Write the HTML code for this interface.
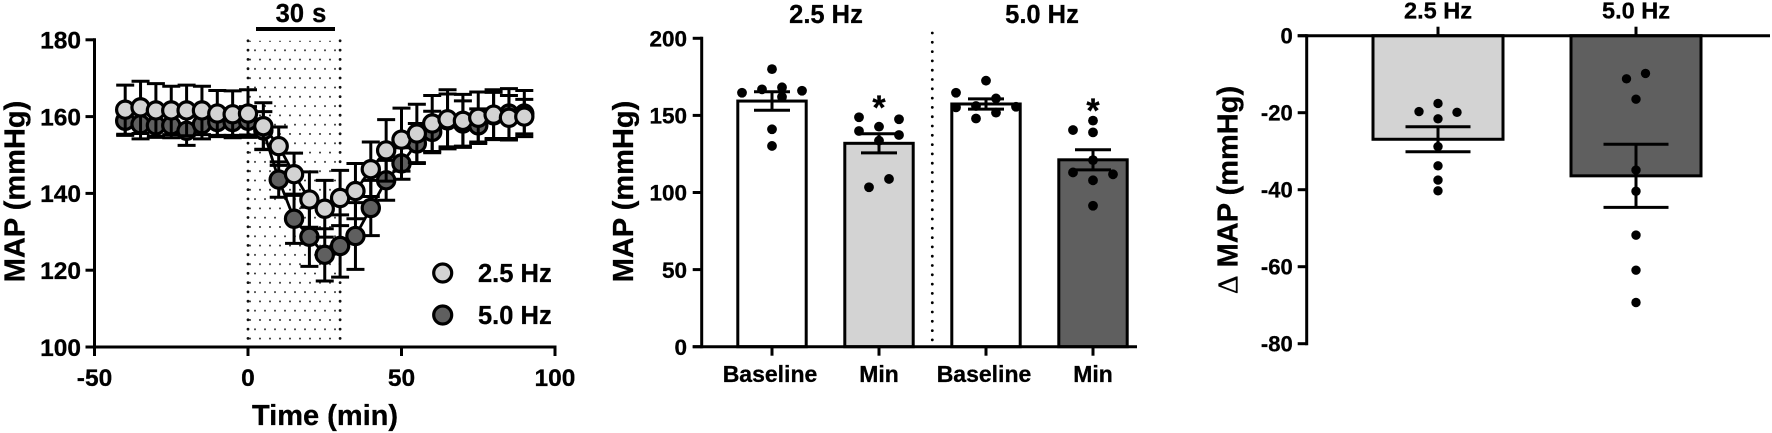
<!DOCTYPE html>
<html lang="en">
<head>
<meta charset="utf-8">
<title>MAP response charts</title>
<style>
html,body{margin:0;padding:0;background:#fff;width:1772px;height:433px;overflow:hidden}
svg{display:block;font-family:"Liberation Sans",Arial,sans-serif;font-weight:bold;fill:#000}
text{stroke:#000;stroke-width:.3px}
</style>
</head>
<body>
<svg id="fig" width="1772" height="433" viewBox="0 0 1772 433" xmlns="http://www.w3.org/2000/svg">
  <defs>
    <pattern id="stipple" width="10" height="18.6" patternUnits="userSpaceOnUse" x="248" y="40.5">
      <circle cx="2" cy="0.5" r="0.95" fill="#222"></circle>
      <circle cx="7" cy="9.8" r="0.95" fill="#222"></circle>
      <circle cx="2" cy="19.1" r="0.95" fill="#222"></circle>
    </pattern>
  </defs>
  <g id="chart1"></g>
  <g id="chart2"></g>
  <g id="chart3"></g>

  <text transform="translate(24.5,191.5) rotate(-90)" text-anchor="middle" font-size="29">MAP (mmHg)</text>
  <text x="325" y="425" text-anchor="middle" font-size="29">Time (min)</text>
  <text x="301" y="22" text-anchor="middle" font-size="25.5" word-spacing="1">30 s</text>
  <rect x="256" y="27" width="79" height="4" fill="#000"></rect>

  <text transform="translate(633,191.5) rotate(-90)" text-anchor="middle" font-size="29">MAP (mmHg)</text>
  <text x="826" y="23" text-anchor="middle" font-size="25.5">2.5 Hz</text>
  <text x="1042" y="23" text-anchor="middle" font-size="25.5">5.0 Hz</text>
  <line x1="932.3" y1="33" x2="932.3" y2="340" stroke="#000" stroke-width="2.8" stroke-linecap="round" stroke-dasharray="0 9.3"></line>

  <text transform="translate(1237.7,190) rotate(-90)" text-anchor="middle" font-size="29"><tspan font-family="'Liberation Serif',serif" font-weight="normal">Δ</tspan> MAP (mmHg)</text>
  <text x="1438" y="18.5" text-anchor="middle" font-size="23.5">2.5 Hz</text>
  <text x="1636" y="18.5" text-anchor="middle" font-size="23.5">5.0 Hz</text>
</svg>
<script>
// ---------- Chart 1 data: time course ----------
const timePoints = [-40,-35,-30,-25,-20,-15,-10,-5,0,5,10,15,20,25,30,35,40,45,50,55,60,65,70,75,80,85,90];
const map25 = [161.8,162.4,161.6,161.6,161.6,161.6,160.8,160.6,160.8,157.5,152.3,145,138.4,136,138.8,140.6,146.3,151.2,154,155.6,158.2,159.3,158.9,159.7,160.5,159.7,160];
const sem25 = [6.4,6.8,7,6.3,6.6,6.3,6,6.1,6.2,6.1,5,5.5,7.2,7.4,7.2,7.2,7.1,8,8.2,7.6,7.3,7.7,6.9,6.7,6.5,5.8,4.5];
const map50 = [158.9,158,157.7,157.7,156.3,158,158.6,158.6,158.9,156.4,143.6,133.4,128.7,124,126.3,128.9,136.2,143.4,147.8,153,156,159,158.2,157.7,160.3,160.8,160.8];
const sem50 = [3.8,3.8,2.8,3.2,3.8,3.8,3.5,3.5,3.7,4.9,4.6,6.4,7.7,6.8,8.1,8.7,7.2,5.2,4.1,5.2,5.4,6.9,5.9,4.3,6,6.5,6];
const timeYTicks = [100,120,140,160,180];
const timeXTicks = [-50,0,50,100];
const stimulusWindow = [0,30];
const legendLabels = ["2.5 Hz","5.0 Hz"];

// ---------- Chart 2 data: baseline vs min ----------
const barCategories = ["Baseline","Min","Baseline","Min"];
const barMeans = [159.3,131.9,157.4,121.2];
const barSem = [6,6.2,3.3,6.5];
const barPointValues = [
  [180,164.7,166.9,168.2,162,166,141,130.2],
  [148.8,147.5,139.9,142.7,137.3,133.6,108.8,103.4],
  [172.5,164.7,161,155.2,156.1,155.6,151.8,148],
  [146.6,140.5,139,121,113,111.8,107.9,91.4]
];
const barPointSlots = [
  [0,-3,-1,1,1,3,0,0],
  [-2,2,-2,0,2,0,1,-1],
  [0,-3,1,-3,-1,3,1,-1],
  [0,-2,0,0,-2,2,0,0]
];
const barYTicks = [0,50,100,150,200];
const barFills = ["#ffffff","#d3d3d3","#ffffff","#5f5f5f"];
const barStars = [false,true,false,true];

// ---------- Chart 3 data: delta MAP ----------
const deltaCategories = ["2.5 Hz","5.0 Hz"];
const deltaMeans = [-26.9,-36.4];
const deltaSem = [3.25,8.2];
const deltaPointValues = [
  [-17.6,-19.7,-19.9,-21.6,-28.8,-33.8,-37.5,-40.3],
  [-9.8,-11.2,-16.5,-34.9,-40.4,-51.8,-60.9,-69.3]
];
const deltaPointSlots = [
  [0,-2,2,0,0,0,0,0],
  [1,-1,0,0,0,0,0,0]
];
const deltaYTicks = [-80,-60,-40,-20,0];
const deltaFills = ["#d3d3d3","#5f5f5f"];

// ---------- helpers ----------
const NS = "http://www.w3.org/2000/svg";
function mk(parent, tag, attrs, name) {
  const el = document.createElementNS(NS, tag);
  for (const k in attrs) el.setAttribute(k, attrs[k]);
  
  
  parent.appendChild(el);
  return el;
}
function seg(parent, x1, y1, x2, y2, w, name) {
  return mk(parent, "line", {x1, y1, x2, y2, stroke: "#000", "stroke-width": w}, name);
}
function label(parent, x, y, str, size, anchor, name) {
  const t = mk(parent, "text", {x, y, "font-size": size, "text-anchor": anchor}, name);
  t.textContent = str;
  return t;
}
function errorBar(parent, x, yTop, yBottom, halfCap, w, name) {
  const g = mk(parent, "g", {}, name);
  seg(g, x, yTop, x, yBottom, w, "error-stem");
  seg(g, x - halfCap, yTop, x + halfCap, yTop, w, "error-cap-upper");
  seg(g, x - halfCap, yBottom, x + halfCap, yBottom, w, "error-cap-lower");
}

// ---------- Chart 1 ----------
(function () {
  const g = document.getElementById("chart1");
  const x = v => 248 + (v - 0) * 3.07;
  const y = v => 347 - (v - 100) * 3.84;

  mk(g, "rect", {x: x(stimulusWindow[0]), y: y(180) + 1, width: x(stimulusWindow[1]) - x(stimulusWindow[0]), height: y(100) - y(180) - 2, fill: "url(#stipple)"}, "stimulus-shaded-region");
  stimulusWindow.forEach(v => {
    mk(g, "line", {x1: x(v), y1: y(180) + 1, x2: x(v), y2: y(100), stroke: "#111", "stroke-width": 2.8, "stroke-linecap": "round", "stroke-dasharray": "0 9.3"}, "stimulus-edge");
  });

  seg(g, x(-50), y(180) - 1.5, x(-50), y(100) + 9, 3, "y-axis-line");
  seg(g, x(-50) - 1.5, y(100), x(100) + 1.5, y(100), 3, "x-axis-line");
  timeYTicks.forEach(v => {
    seg(g, x(-50) - 9, y(v), x(-50), y(v), 3, "y-tick");
    label(g, 81, y(v) + 8.8, v, 24.5, "end", "y-tick-label");
  });
  timeXTicks.forEach(v => {
    seg(g, x(v), y(100), x(v), y(100) + 9, 3, "x-tick");
    label(g, x(v), 386, v, 24.5, "middle", "x-tick-label");
  });

  function series(values, sem, fill, name) {
    const s = mk(g, "g", {}, name);
    const pts = timePoints.map((t, i) => x(t) + "," + y(values[i])).join(" ");
    mk(s, "polyline", {points: pts, fill: "none", stroke: "#000", "stroke-width": 2.8}, "series-line");
    timePoints.forEach((t, i) => {
      errorBar(s, x(t), y(values[i] + sem[i]), y(values[i] - sem[i]), 9, 3, "series-error-bar");
    });
    timePoints.forEach((t, i) => {
      mk(s, "circle", {cx: x(t), cy: y(values[i]), r: 8.6, fill, stroke: "#000", "stroke-width": 3.2}, "series-point");
    });
  }
  series(map50, sem50, "#5f5f5f", "series-5-0-hz");
  series(map25, sem25, "#d3d3d3", "series-2-5-hz");

  const legendFills = ["#d3d3d3", "#5f5f5f"];
  legendLabels.forEach((l, i) => {
    const ly = 273 + i * 42;
    const e = mk(g, "g", {}, "legend-entry");
    mk(e, "circle", {cx: 442.7, cy: ly, r: 9, fill: legendFills[i], stroke: "#000", "stroke-width": 3.2}, "legend-marker");
    label(e, 478, ly + 8.8, l, 25.5, "start", "legend-label");
  });
})();

// ---------- Chart 2 ----------
(function () {
  const g = document.getElementById("chart2");
  const x = i => 772 + i * 107;
  const y = v => 346.7 - v * 1.542;
  const axisX = 701.7;

  barCategories.forEach((c, i) => {
    mk(g, "rect", {x: x(i) - 34.2, y: y(barMeans[i]), width: 68.4, height: y(0) - y(barMeans[i]), fill: barFills[i], stroke: "#000", "stroke-width": 3}, "bar");
  });

  seg(g, axisX, y(200) - 1.5, axisX, y(0) + 1.5, 3, "y-axis-line");
  seg(g, axisX - 9, y(0), 1137, y(0), 3, "x-axis-line");
  barYTicks.forEach(v => {
    seg(g, axisX - 9, y(v), axisX, y(v), 3, "y-tick");
    label(g, 687, y(v) + 8.2, v, 22.5, "end", "y-tick-label");
  });
  barCategories.forEach((c, i) => {
    seg(g, x(i), y(0), x(i), y(0) + 9, 3, "x-tick");
    label(g, x(i) - (c === "Baseline" ? 2 : 0), 382, c, 23, "middle", "x-tick-label");
  });

  barCategories.forEach((c, i) => {
    barPointValues[i].forEach((v, j) => {
      mk(g, "circle", {cx: x(i) + barPointSlots[i][j] * 10, cy: y(v), r: 4.9, fill: "#000"}, "data-point");
    });
    errorBar(g, x(i), y(barMeans[i] + barSem[i]), y(barMeans[i] - barSem[i]), 18, 3, "bar-error");
    if (barStars[i]) {
      label(g, x(i), y(Math.max(...barPointValues[i])) + 1.5, "*", 34, "middle", "significance-star");
    }
  });
})();

// ---------- Chart 3 ----------
(function () {
  const g = document.getElementById("chart3");
  const x = i => 1438 + i * 198;
  const y = v => 35.7 - v * 3.85;
  const axisX = 1306.7;

  deltaCategories.forEach((c, i) => {
    mk(g, "rect", {x: x(i) - 65, y: y(0), width: 130, height: y(deltaMeans[i]) - y(0), fill: deltaFills[i], stroke: "#000", "stroke-width": 3}, "delta-bar");
  });

  seg(g, axisX, y(0) - 1.5, axisX, y(-80) + 1.5, 3, "y-axis-line");
  seg(g, axisX - 9, y(0), 1770, y(0), 3, "x-axis-line");
  deltaYTicks.forEach(v => {
    seg(g, axisX - 9, y(v), axisX, y(v), 3, "y-tick");
    label(g, 1292.7, y(v) + 8, v, 22, "end", "y-tick-label");
  });
  deltaCategories.forEach((c, i) => {
    seg(g, x(i), y(0) - 9, x(i), y(0), 3, "top-tick");
    deltaPointValues[i].forEach((v, j) => {
      mk(g, "circle", {cx: x(i) + deltaPointSlots[i][j] * 9.5, cy: y(v), r: 4.7, fill: "#000"}, "data-point");
    });
    errorBar(g, x(i), y(deltaMeans[i] + deltaSem[i]), y(deltaMeans[i] - deltaSem[i]), 32.5, 3, "delta-error");
  });
})();
</script>
</body>
</html>
